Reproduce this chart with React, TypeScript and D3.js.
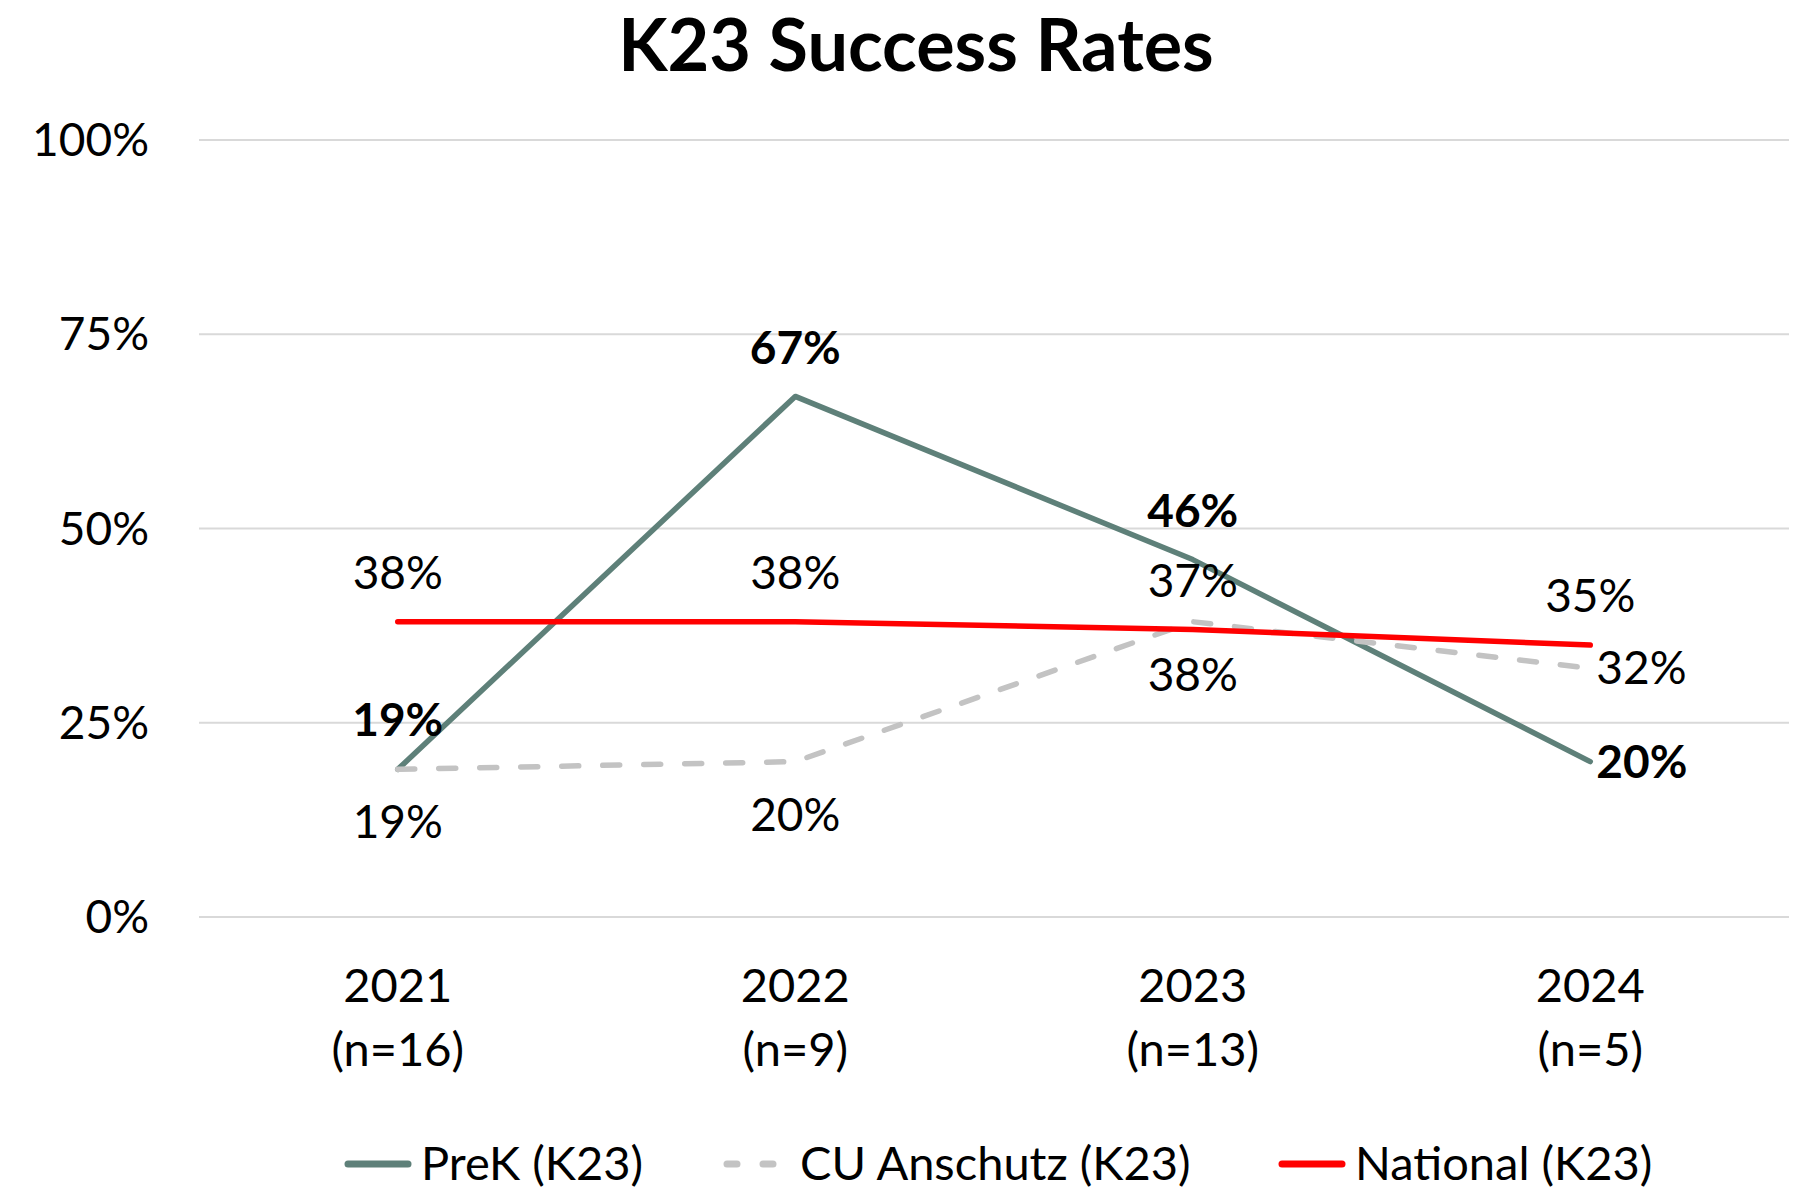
import * as d3 from "d3";

const years = ["2021", "2022", "2023", "2024"];
const counts = ["(n=16)", "(n=9)", "(n=13)", "(n=5)"];
const prek = [19, 67, 46, 20];
const anschutz = [19, 20, 38, 32];
const national = [38, 38, 37, 35];
const yTicks = [0, 25, 50, 75, 100];

// where each label sits relative to its point, per series
const prekPos = ["above", "above", "above", "right"];
const anschutzPos = ["below", "below", "below", "right"];
const nationalPos = ["above", "above", "above", "above"];

const W = 1802;
const H = 1190;
const FONT = "Lato, 'Open Sans', sans-serif";

const App = () => {
  const x = d3.scalePoint().domain(years).range([199, 1789]).padding(0.5);
  const y = d3.scaleLinear().domain([0, 100]).range([917, 140]);
  const line = d3
    .line<number>()
    .x((_, i) => x(years[i]))
    .y((d) => y(d));

  const series = [
    { name: "PreK (K23)", values: prek, pos: prekPos, color: "#5E8079", dash: null, bold: true },
    { name: "CU Anschutz (K23)", values: anschutz, pos: anschutzPos, color: "#C3C3C3", dash: "17 24", bold: false },
    { name: "National (K23)", values: national, pos: nationalPos, color: "#FF0000", dash: null, bold: false },
  ];

  const labelXY = (p: string, i: number, v: number) => {
    const px = x(years[i]);
    const py = y(v);
    if (p === "above") return { lx: px, ly: py - 49, anchor: "middle" };
    if (p === "below") return { lx: px, ly: py + 53, anchor: "middle" };
    return { lx: px + 6, ly: py, anchor: "start" };
  };

  const legendX = [345, 724, 1279];

  return (
    <svg
      width={W}
      height={H}
      style={{ position: "absolute", left: 0, top: 0, background: "#fff" }}
      fontFamily={FONT}
    >
      <text x={916} y={46} textAnchor="middle" dy="0.35em" fontSize={72} fontWeight={700}>
        K23 Success Rates
      </text>

      {yTicks.map((t) => (
        <g key={t}>
          <line x1={199} x2={1789} y1={y(t)} y2={y(t)} stroke="#D9D9D9" strokeWidth={2} />
          <text x={149} y={y(t)} dy="0.35em" textAnchor="end" fontSize={46}>
            {t}%
          </text>
        </g>
      ))}

      {years.map((yr, i) => (
        <g key={yr}>
          <text x={x(yr)} y={986} dy="0.35em" textAnchor="middle" fontSize={47}>
            {yr}
          </text>
          <text x={x(yr)} y={1050} dy="0.35em" textAnchor="middle" fontSize={47}>
            {counts[i]}
          </text>
        </g>
      ))}

      {series.map((s) => (
        <path
          key={s.name}
          d={line(s.values)}
          fill="none"
          stroke={s.color}
          strokeWidth={5.5}
          strokeLinecap="round"
          strokeLinejoin="round"
          strokeDasharray={s.dash || undefined}
        />
      ))}

      {series.map((s) =>
        s.values.map((v, i) => {
          const { lx, ly, anchor } = labelXY(s.pos[i], i, v);
          return (
            <text
              key={s.name + i}
              x={lx}
              y={ly}
              dy="0.35em"
              textAnchor={anchor}
              fontSize={46}
              fontWeight={s.bold ? 700 : 400}
            >
              {v}%
            </text>
          );
        })
      )}

      {series.map((s, i) => (
        <g key={s.name} transform={`translate(${legendX[i]},1164)`}>
          <line
            x1={3}
            x2={63}
            y1={0}
            y2={0}
            stroke={s.color}
            strokeWidth={7}
            strokeLinecap="round"
            strokeDasharray={s.dash ? "10 26" : undefined}
          />
          <text x={76} y={0} dy="0.35em" fontSize={47}>
            {s.name}
          </text>
        </g>
      ))}
    </svg>
  );
};

export default App;
